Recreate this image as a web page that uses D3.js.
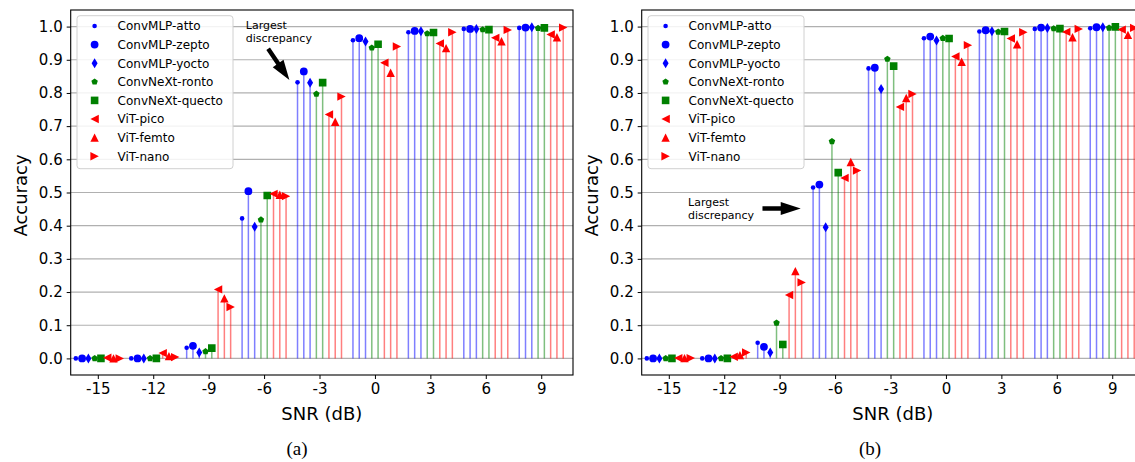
<!DOCTYPE html>
<html>
<head>
<meta charset="utf-8">
<script src="https://cdn.jsdelivr.net/npm/d3@7"></script>
<style>
  body { margin: 0; background: #fff; }
  text { font-family: "DejaVu Sans", sans-serif; }
</style>
</head>
<body>
<svg id="chart" width="1135" height="462"></svg>
<script>
// SNR groups and model names
const snr = [-15, -12, -9, -6, -3, 0, 3, 6, 9];
const models = ["ConvMLP-atto", "ConvMLP-zepto", "ConvMLP-yocto", "ConvNeXt-ronto",
                "ConvNeXt-quecto", "ViT-pico", "ViT-femto", "ViT-nano"];
const yTicks = [0, 0.1, 0.2, 0.3, 0.4, 0.5, 0.6, 0.7, 0.8, 0.9, 1.0];

// (a) accuracies per model
const attoA   = [0.000, 0.000, 0.032, 0.422, 0.832, 0.959, 0.983, 0.993, 0.996];
const zeptoA  = [0.000, 0.000, 0.038, 0.504, 0.865, 0.965, 0.987, 0.993, 0.997];
const yoctoA  = [0.000, 0.000, 0.018, 0.397, 0.831, 0.955, 0.986, 0.993, 0.998];
const rontoA  = [0.000, 0.000, 0.021, 0.418, 0.797, 0.936, 0.979, 0.991, 0.995];
const quectoA = [0.000, 0.000, 0.031, 0.491, 0.831, 0.947, 0.982, 0.991, 0.996];
const picoA   = [0.002, 0.016, 0.208, 0.496, 0.735, 0.891, 0.949, 0.966, 0.976];
const femtoA  = [0.000, 0.007, 0.181, 0.493, 0.713, 0.861, 0.935, 0.956, 0.968];
const nanoA   = [0.000, 0.004, 0.155, 0.489, 0.789, 0.940, 0.983, 0.990, 0.997];

// (b) accuracies per model
const attoB   = [0.000, 0.000, 0.047, 0.515, 0.874, 0.965, 0.985, 0.993, 0.995];
const zeptoB  = [0.000, 0.000, 0.035, 0.524, 0.876, 0.970, 0.989, 0.997, 0.998];
const yoctoB  = [0.000, 0.000, 0.018, 0.395, 0.812, 0.958, 0.986, 0.996, 0.998];
const rontoB  = [0.000, 0.000, 0.107, 0.654, 0.902, 0.965, 0.984, 0.994, 0.996];
const quectoB = [0.000, 0.000, 0.042, 0.560, 0.881, 0.964, 0.985, 0.994, 0.999];
const picoB   = [0.001, 0.005, 0.191, 0.544, 0.758, 0.910, 0.964, 0.984, 0.991];
const femtoB  = [0.001, 0.010, 0.263, 0.592, 0.785, 0.894, 0.947, 0.968, 0.975];
const nanoB   = [0.001, 0.018, 0.229, 0.566, 0.797, 0.944, 0.983, 0.993, 0.996];

const seriesA = [attoA, zeptoA, yoctoA, rontoA, quectoA, picoA, femtoA, nanoA];
const seriesB = [attoB, zeptoB, yoctoB, rontoB, quectoB, picoB, femtoB, nanoB];

// marker shapes (matplotlib-ish: . o d p s < ^ >)
const colors = ["#0000ff", "#0000ff", "#0000ff", "#008000", "#008000", "#ff0000", "#ff0000", "#ff0000"];
function poly(pts){ return "M" + pts.map(p => p.join(",")).join("L") + "Z"; }
function circ(r){ return `M${-r},0A${r},${r} 0 1,0 ${r},0A${r},${r} 0 1,0 ${-r},0Z`; }
const shapes = [
  () => circ(2.3),
  () => circ(3.9),
  () => poly([[0,-5],[3,0],[0,5],[-3,0]]),
  () => poly(d3.range(5).map(k => { const a = -Math.PI/2 + k*2*Math.PI/5; return [3.4*Math.cos(a), 3.4*Math.sin(a)]; })),
  () => poly([[-3.8,-3.8],[3.8,-3.8],[3.8,3.8],[-3.8,3.8]]),
  () => poly([[-4.2,0],[4.2,-4.2],[4.2,4.2]]),
  () => poly([[0,-4.2],[4.2,4.2],[-4.2,4.2]]),
  () => poly([[4.2,0],[-4.2,-4.2],[-4.2,4.2]])
];
const stemStep = 0.34;

const svg = d3.select("#chart");
const plotTop = 10, plotBottom = 375, plotW = 502.3;
const y = d3.scaleLinear().domain([-0.05, 1.05]).range([plotBottom, plotTop]);

const panels = [
  { left: 70.7, series: seriesA, caption: "(a)", capX: 297,
    note: { tip: [-4.63, 0.839], tail: [-5.78, 0.933], text: [-6.99, 1.005] } },
  { left: 641.7, series: seriesB, caption: "(b)", capX: 870,
    note: { tip: [-7.86, 0.452], tail: [-9.93, 0.452], text: [-13.96, 0.472] } }
];

panels.forEach((p, pi) => {
  const x = d3.scaleLinear().domain([-16.467, 10.72]).range([p.left, p.left + plotW]);
  const g = svg.append("g");
  const clipId = "clip" + pi;
  svg.append("clipPath").attr("id", clipId).append("rect")
    .attr("x", p.left).attr("y", plotTop).attr("width", plotW).attr("height", plotBottom - plotTop);

  // grid
  g.append("g").selectAll("line").data(yTicks).join("line")
    .attr("x1", p.left).attr("x2", p.left + plotW)
    .attr("y1", d => y(d)).attr("y2", d => y(d))
    .attr("stroke", "#b0b0b0").attr("stroke-width", 1.2);

  // stems + markers
  const pts = [];
  p.series.forEach((vals, i) => vals.forEach((v, j) => pts.push({ m: i, x: snr[j] + (i - 3.5) * stemStep, v })));
  const plot = g.append("g").attr("clip-path", `url(#${clipId})`);
  plot.selectAll("line.stem").data(pts).join("line").attr("class", "stem")
    .attr("x1", d => x(d.x)).attr("x2", d => x(d.x))
    .attr("y1", y(0)).attr("y2", d => y(d.v))
    .attr("stroke", d => colors[d.m]).attr("stroke-opacity", 0.5).attr("stroke-width", 1.5);
  plot.selectAll("path.mk").data(pts).join("path").attr("class", "mk")
    .attr("transform", d => `translate(${x(d.x)},${y(d.v)})`)
    .attr("d", d => shapes[d.m]())
    .attr("fill", d => colors[d.m]);

  // axes
  const ax = g.append("g").attr("transform", `translate(0,${plotBottom})`)
    .call(d3.axisBottom(x).tickValues(snr).tickFormat(d => String(d)).tickSize(4).tickPadding(4));
  const ay = g.append("g").attr("transform", `translate(${p.left},0)`)
    .call(d3.axisLeft(y).tickValues(yTicks).tickFormat(d3.format(".1f")).tickSize(4).tickPadding(4));
  [ax, ay].forEach(a => {
    a.select(".domain").remove();
    a.selectAll("text").attr("font-size", 15).attr("fill", "#000");
    a.selectAll("line").attr("stroke", "#000");
  });

  // frame
  g.append("rect").attr("x", p.left).attr("y", plotTop).attr("width", plotW).attr("height", plotBottom - plotTop)
    .attr("fill", "none").attr("stroke", "#000").attr("stroke-width", 1.1);

  // axis labels
  g.append("text").attr("transform", `translate(${p.left - 50},${(plotTop + plotBottom) / 2 + 3}) rotate(-90)`)
    .attr("text-anchor", "middle").attr("dy", "0.35em").attr("font-size", 18).text("Accuracy");
  g.append("text").attr("x", p.left + plotW / 2).attr("y", 420)
    .attr("text-anchor", "middle").attr("font-size", 18).text("SNR (dB)");
  g.append("text").attr("x", p.capX).attr("y", 455).attr("text-anchor", "middle")
    .style("font-family", "'Liberation Serif', 'DejaVu Serif', serif").attr("font-size", 19).text(p.caption);

  // legend
  const lx = p.left + 6.3, ly = plotTop + 5.7;
  const lg = g.append("g");
  lg.append("rect").attr("x", lx).attr("y", ly).attr("width", 156).attr("height", 153).attr("rx", 3)
    .attr("fill", "#fff").attr("fill-opacity", 0.85).attr("stroke", "#d0d0d0");
  const rows = lg.selectAll("g").data(models).join("g")
    .attr("transform", (d, i) => `translate(${lx},${ly + 10.3 + i * 18.6})`);
  rows.append("path").attr("transform", "translate(17.6,0)")
    .attr("d", (d, i) => shapes[i]()).attr("fill", (d, i) => colors[i]);
  rows.append("text").attr("x", 40.6).attr("dy", "0.36em").attr("font-size", 12).text(d => d);

  // annotation arrow
  const n = p.note;
  const tx = x(n.tip[0]), ty = y(n.tip[1]), sx = x(n.tail[0]), sy = y(n.tail[1]);
  const len = Math.hypot(tx - sx, ty - sy), ang = Math.atan2(ty - sy, tx - sx) * 180 / Math.PI;
  const hl = 20, hw = 6.5, sw = 2.2;
  g.append("path")
    .attr("transform", `translate(${sx},${sy}) rotate(${ang})`)
    .attr("d", poly([[0,-sw],[len-hl,-sw],[len-hl,-hw],[len,0],[len-hl,hw],[len-hl,sw],[0,sw]]))
    .attr("fill", "#000");
  const nt = g.append("text").attr("x", x(n.text[0])).attr("y", y(n.text[1])).attr("font-size", 11);
  nt.append("tspan").attr("x", x(n.text[0])).attr("dy", "0.35em").text("Largest");
  nt.append("tspan").attr("x", x(n.text[0])).attr("dy", "1.2em").text("discrepancy");
});
</script>
</body>
</html>
